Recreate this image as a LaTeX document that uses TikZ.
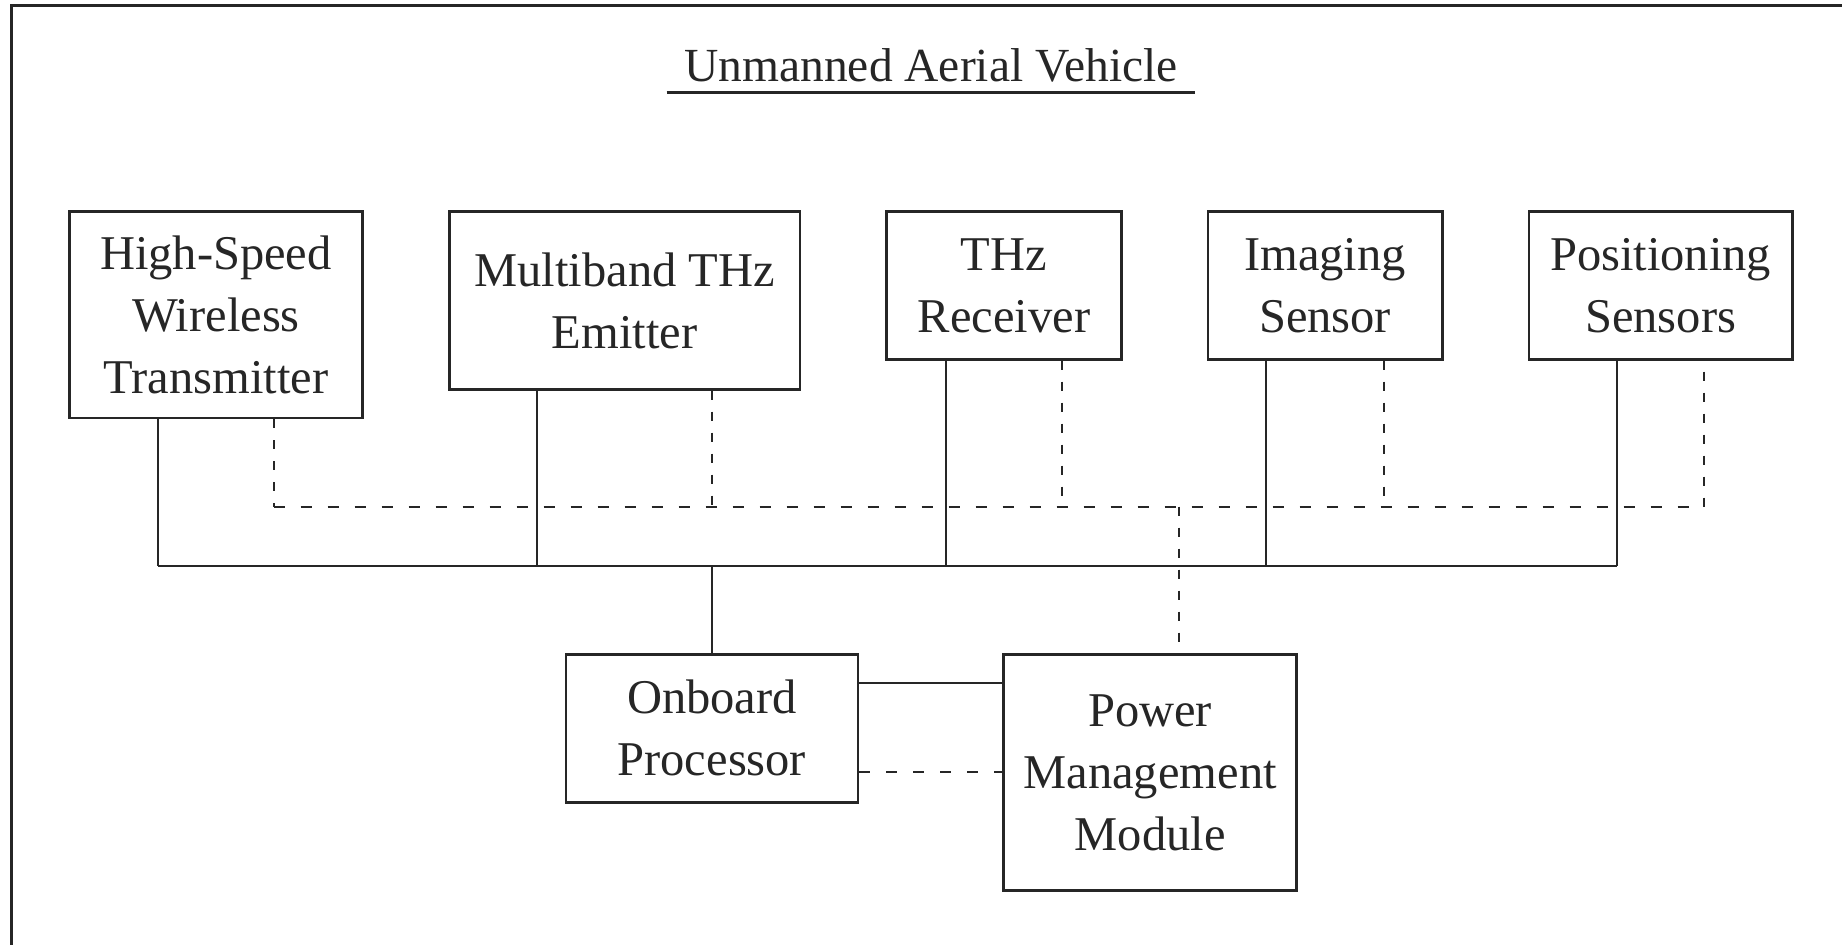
\documentclass[tikz,border=0pt]{standalone}
\usepackage{fontspec}
\setmainfont{Liberation Serif}
\usetikzlibrary{calc}

\definecolor{ink}{HTML}{262626}

\tikzset{
  unit/.style={draw=ink, line width=2.6pt, inner sep=0pt, align=center,
    text=ink, font=\fontsize{48.5}{62}\selectfont},
  wire/.style={draw=ink, line width=2pt},
  vdash/.style={draw=ink, line width=2pt, dash pattern=on 9pt off 12pt},
  hdash/.style={draw=ink, line width=2pt, dash pattern=on 11pt off 16pt},
}

\begin{document}
\begin{tikzpicture}[x=1pt, y=-1pt]
  \useasboundingbox (0,0) rectangle (1842,945);
  \fill[white] (0,0) rectangle (1842,945);

  % outer frame
  \draw[draw=ink, line width=3pt] (11.7,960) -- (11.7,5) -- (1860,5);

  % title
  \node[text=ink, font=\fontsize{47.5}{60}\selectfont, anchor=base, inner sep=0pt]
    (title) at (931,81) {Unmanned Aerial Vehicle};
  \draw[draw=ink, line width=2.8pt] (666.6,92.7) -- (1195,92.7);

  % components
  \node[unit, minimum width=292.6pt, minimum height=206.3pt] (hs)  at (215.9,314.85)
    {High-Speed\\Wireless\\Transmitter};
  \node[unit, minimum width=350.8pt, minimum height=177.6pt] (mb)  at (624.6,300.5)
    {Multiband THz\\Emitter};
  \node[unit, minimum width=234.5pt, minimum height=147.6pt] (rx)  at (1003.95,285.5)
    {THz\\Receiver};
  \node[unit, minimum width=234.4pt, minimum height=147.6pt] (img) at (1325.1,285.5)
    {Imaging\\Sensor};
  \node[unit, minimum width=263.7pt, minimum height=147.6pt] (pos) at (1660.65,285.5)
    {Positioning\\Sensors};
  \node[unit, minimum width=291.9pt, minimum height=148pt]   (ob)  at (711.85,728.3)
    {Onboard\\Processor};
  \node[unit, minimum width=292.8pt, minimum height=236.4pt] (pm)  at (1150.1,772.5)
    {Power\\Management\\Module};

  % levels of the data bus and of the power line
  \coordinate (bus) at (0,566);
  \coordinate (pwr) at (0,506.7);

  % data bus (solid)
  \draw[wire] ([xshift=-57.7]hs.south |- bus) -- ([xshift=-43.4]pos.south |- bus);
  \draw[wire] ([xshift=-57.7]hs.south)  -- ([xshift=-57.7]hs.south |- bus);
  \draw[wire] ([xshift=-87.6]mb.south)  -- ([xshift=-87.6]mb.south |- bus);
  \draw[wire] ([xshift=-58]rx.south)    -- ([xshift=-58]rx.south |- bus);
  \draw[wire] ([xshift=-58.8]img.south) -- ([xshift=-58.8]img.south |- bus);
  \draw[wire] ([xshift=-43.4]pos.south) -- ([xshift=-43.4]pos.south |- bus);
  \draw[wire] (ob.north) -- (ob.north |- bus);

  % power distribution (dashed)
  \draw[hdash] ([xshift=57.7]hs.south |- pwr) -- ([xshift=43.1]pos.south |- pwr);
  \draw[vdash] ([xshift=57.7]hs.south)  -- ([xshift=57.7]hs.south |- pwr);
  \draw[vdash] ([xshift=87.3]mb.south)  -- ([xshift=87.3]mb.south |- pwr);
  \draw[vdash] ([xshift=58]rx.south)    -- ([xshift=58]rx.south |- pwr);
  \draw[vdash] ([xshift=58.4]img.south) -- ([xshift=58.4]img.south |- pwr);
  \draw[vdash, dash phase=10pt] ([xshift=43.1]pos.south) -- ([xshift=43.1]pos.south |- pwr);
  \draw[vdash] ([xshift=29]pm.north |- pwr) -- ([xshift=29]pm.north);

  % processor <-> power module
  \draw[wire]  ([yshift=45]ob.east) -- ([yshift=45]ob.east -| pm.west);
  \draw[hdash] ([yshift=-43.4]ob.east) -- ([yshift=-43.4]ob.east -| pm.west);
\end{tikzpicture}
\end{document}
